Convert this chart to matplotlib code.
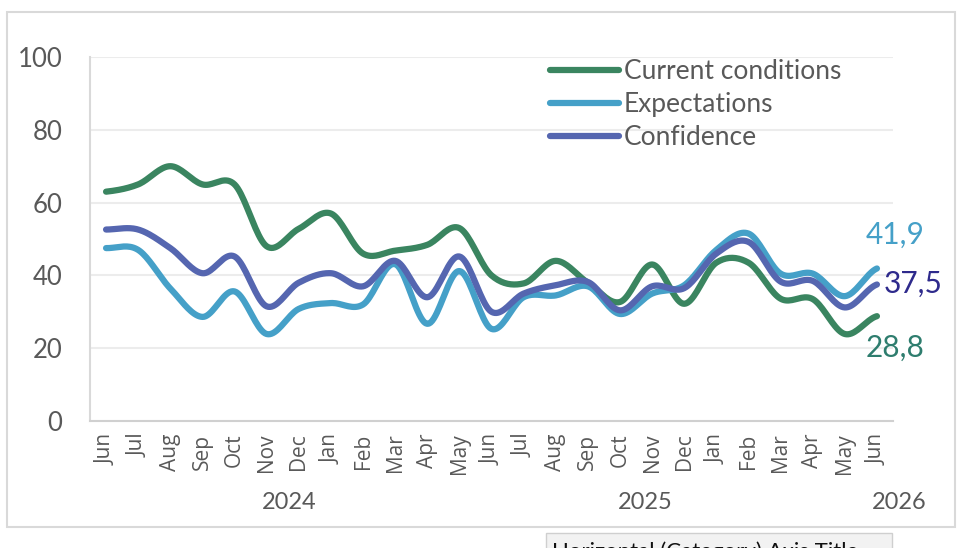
#!/usr/bin/env python3

import numpy as np
import matplotlib.pyplot as plt
from matplotlib.patches import Rectangle

months = ["Jun", "Jul", "Aug", "Sep", "Oct", "Nov", "Dec", "Jan", "Feb", "Mar", "Apr", "May",
          "Jun", "Jul", "Aug", "Sep", "Oct", "Nov", "Dec", "Jan", "Feb", "Mar", "Apr", "May", "Jun"]
years = ["2024", "2025", "2026"]
year_pos = [5.7, 16.8, 24.7]

current = [63.0, 65.0, 70.0, 65.0, 65.0, 48.0, 52.8, 57.0, 46.0, 46.8, 48.4, 53.0,
           40.0, 37.8, 44.0, 38.0, 32.7, 43.0, 32.2, 43.5, 43.5, 33.6, 33.5, 23.9, 28.8]
expect = [47.5, 47.0, 36.4, 28.6, 35.6, 23.9, 30.8, 32.4, 32.0, 43.1, 26.7, 41.2,
          25.3, 34.0, 34.5, 37.0, 29.4, 35.0, 37.3, 47.0, 51.5, 40.5, 40.5, 34.3, 41.9]
confid = [52.6, 52.6, 47.5, 40.6, 45.2, 31.5, 38.0, 40.6, 37.0, 44.0, 34.0, 45.2,
          30.0, 35.0, 37.3, 38.2, 30.4, 37.0, 36.5, 46.0, 49.2, 38.3, 38.5, 31.2, 37.5]

series = [
    ("Current conditions", current, "#3a8560", "#2e7d6e", "28,8", (18, -32), "center"),
    ("Expectations", expect, "#45a0c8", "#45a0c8", "41,9", (18, 34), "center"),
    ("Confidence", confid, "#5566b0", "#2e2a8c", "37,5", (7, 1), "left"),
]


def smooth(y, n=20):
    # Catmull-Rom curve through the points, like Excel's "smoothed line"
    y = np.asarray(y, float)
    x = np.arange(len(y), dtype=float)
    px = np.concatenate([[2 * x[0] - x[1]], x, [2 * x[-1] - x[-2]]])
    py = np.concatenate([[y[0]], y, [y[-1]]])
    xs, ys = [], []
    t = np.linspace(0, 1, n, endpoint=False)
    for i in range(1, len(px) - 2):
        for arr, out in ((px, xs), (py, ys)):
            p0, p1, p2, p3 = arr[i - 1], arr[i], arr[i + 1], arr[i + 2]
            out.append(0.5 * (2 * p1 + (-p0 + p2) * t + (2 * p0 - 5 * p1 + 4 * p2 - p3) * t ** 2
                              + (-p0 + 3 * p1 - 3 * p2 + p3) * t ** 3))
    xs.append([x[-1]])
    ys.append([y[-1]])
    return np.concatenate(xs), np.concatenate(ys)


plt.rcParams['font.family'] = ['Lato', 'DejaVu Sans']

fig = plt.figure(figsize=(9.68, 5.48), dpi=100)
ax = fig.add_axes([90 / 968, 1 - 421 / 548, 803 / 968, 364 / 548])

# chart frame
fig.patches.append(Rectangle((7 / 968, 1 - 527 / 548), 948 / 968, 515 / 548,
                             transform=fig.transFigure, fill=False,
                             edgecolor="#d9d9d9", lw=1.5))

for name, vals, col, lcol, lab, off, ha in series:
    sx, sy = smooth(vals)
    ax.plot(sx, sy, color=col, lw=4.5, solid_capstyle="round", label=name)
    ax.annotate(lab, (len(vals) - 1, vals[-1]), xytext=off, textcoords="offset pixels",
                ha=ha, va="center", fontsize=21.5, color=lcol, annotation_clip=False)

ax.set_xlim(-0.5, len(months) - 0.5)
ax.set_ylim(0, 100)
ax.set_yticks(range(0, 101, 20))
ax.set_xticks(range(len(months)))
ax.set_xticklabels(months, rotation=90, family=["Open Sans", "DejaVu Sans"])
ax.tick_params(axis="y", length=0, pad=20, labelsize=18.5, labelcolor="#595959")
ax.tick_params(axis="x", length=0, pad=9, labelsize=15, labelcolor="#595959")
ax.grid(axis="y", color="#ececec", lw=1.5)
ax.set_axisbelow(True)
for s in ["top", "right"]:
    ax.spines[s].set_visible(False)
ax.spines["left"].set_color("#d9d9d9")
ax.spines["left"].set_linewidth(1.5)
ax.spines["bottom"].set_color("#d0d0d0")
ax.spines["bottom"].set_linewidth(1.5)

for yr, xp in zip(years, year_pos):
    ax.text(xp, -22.5, yr, ha="center", va="center", fontsize=17, color="#595959",
            clip_on=False)

leg = fig.legend(loc="upper left", bbox_to_anchor=(550 / 968, 1 - 59 / 548), frameon=False,
                 fontsize=19, handlelength=2.6, handletextpad=0.2, labelspacing=0.31,
                 borderpad=0, borderaxespad=0)
for t in leg.get_texts():
    t.set_color("#595959")

# Excel tooltip peeking in at the bottom
fig.patches.append(Rectangle((546 / 968, -0.01), 346 / 968, 1 - 533 / 548 + 0.01,
                             transform=fig.transFigure, facecolor="#f2f2f2",
                             edgecolor="#cfcfcf", lw=1))
fig.text(552 / 968, 1 - 541 / 548, "Horizontal (Category) Axis Title", ha="left", va="top",
         fontsize=16, color="#111111")

fig.savefig("out.png", dpi=100)
